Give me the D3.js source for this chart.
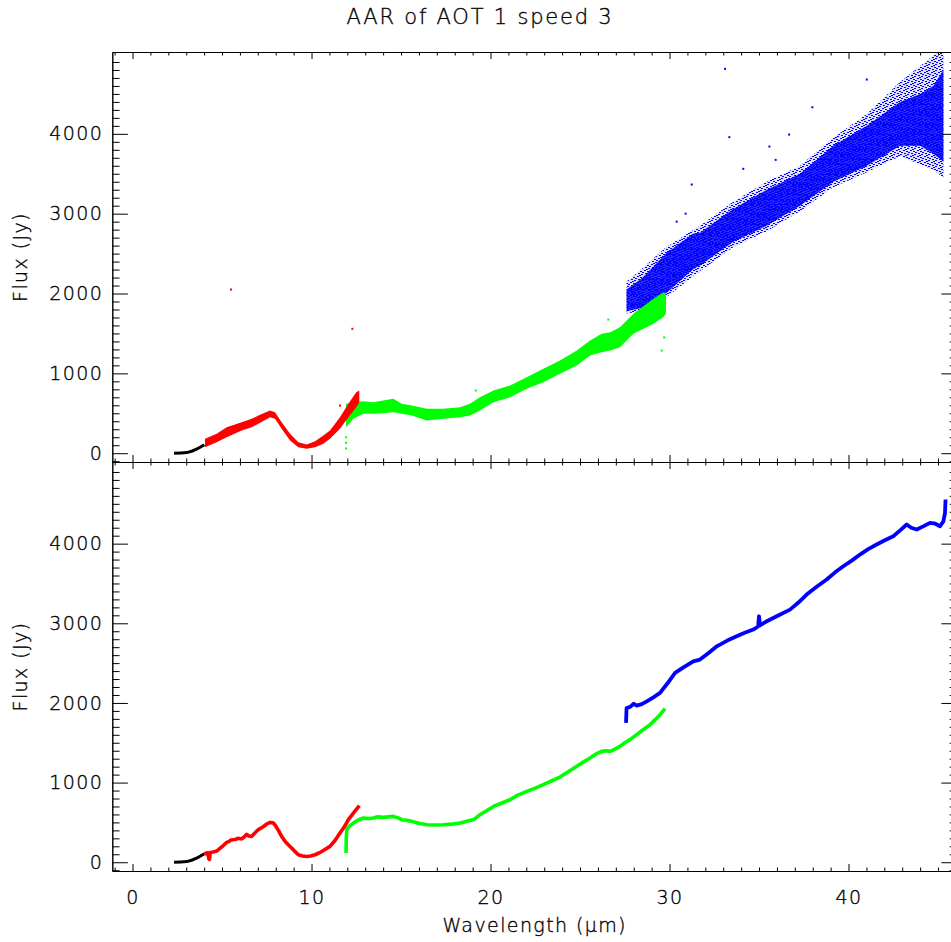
<!DOCTYPE html>
<html>
<head>
<meta charset="utf-8">
<script src="https://cdn.jsdelivr.net/npm/d3@7"></script>
<style>
  html, body { margin: 0; padding: 0; background: #fff; }
  svg text { font-family: "DejaVu Sans", sans-serif; font-weight: 200; fill: #000; stroke: #000; stroke-width: 0.35px; }
</style>
</head>
<body>
<svg id="chart" width="951" height="942"></svg>
<script>
// ---- tick labels ----
const xTickValues = [0, 10, 20, 30, 40];
const yTickValues = [0, 1000, 2000, 3000, 4000];

// ---- lower panel: averaged spectrum per band (wavelength in um, flux in Jy) ----
const blackWl   = [2.32, 2.7, 3.03, 3.3, 3.58, 3.8, 4.01];
const blackFlux = [0, 4, 8, 25, 52, 78, 107];

const redWl   = [4.01, 4.2, 4.27, 4.3, 4.34, 4.5, 4.7, 5.0, 5.26, 5.4, 5.5, 5.73, 5.9, 6.1, 6.25, 6.38, 6.5, 6.66, 6.85, 7.03, 7.3, 7.5, 7.68, 7.85, 7.96, 8.15, 8.33, 8.55, 8.8, 9.05, 9.26, 9.5, 9.73, 9.95, 10.2, 10.45, 10.66, 11.03, 11.3, 11.59, 11.85, 12.06, 12.35, 12.67];
const redFlux = [107, 118, 40, 35, 122, 128, 140, 195, 250, 262, 280, 285, 300, 292, 320, 350, 330, 325, 370, 410, 445, 480, 500, 495, 468, 400, 325, 255, 198, 140, 94, 78, 73, 78, 94, 120, 148, 199, 270, 367, 450, 534, 620, 710];

const greenWl   = [11.93, 11.94, 11.97, 12.1, 12.34, 12.6, 12.89, 13.2, 13.45, 13.7, 14.01, 14.3, 14.57, 14.8, 15.04, 15.3, 15.6, 16.0, 16.44, 16.9, 17.36, 17.8, 18.3, 18.85, 19.1, 19.41, 19.8, 20.16, 20.6, 21.09, 21.5, 22.02, 22.5, 22.95, 23.4, 23.88, 24.3, 24.82, 25.2, 25.56, 25.9, 26.21, 26.45, 26.68, 26.95, 27.23, 27.5, 27.79, 28.17, 28.5, 28.91, 29.2, 29.47, 29.75];
const greenFlux = [115, 300, 408, 450, 492, 530, 555, 548, 555, 570, 563, 570, 576, 560, 534, 528, 513, 490, 471, 468, 471, 478, 492, 525, 540, 597, 650, 701, 740, 785, 840, 890, 930, 974, 1020, 1070, 1130, 1204, 1260, 1309, 1360, 1392, 1400, 1392, 1420, 1455, 1500, 1539, 1602, 1660, 1727, 1790, 1853, 1928];

const blueWl   = [27.57, 27.6, 27.8, 28.0, 28.17, 28.45, 28.73, 29.1, 29.47, 29.9, 30.31, 30.8, 31.33, 31.7, 32.2, 32.64, 33.2, 33.75, 34.2, 34.68, 34.95, 35.0, 35.05, 35.43, 36.1, 36.73, 37.2, 37.66, 38.2, 38.78, 39.25, 39.71, 40.2, 40.64, 41.1, 41.57, 42.0, 42.5, 42.9, 43.25, 43.5, 43.81, 44.2, 44.55, 44.85, 45.11, 45.3, 45.39, 45.42];
const blueFlux = [1749, 1937, 1950, 1990, 1966, 1985, 2020, 2070, 2126, 2250, 2377, 2450, 2523, 2544, 2630, 2711, 2780, 2837, 2880, 2921, 2960, 3088, 2975, 3025, 3100, 3172, 3260, 3361, 3455, 3549, 3640, 3716, 3790, 3863, 3930, 3989, 4040, 4093, 4170, 4240, 4200, 4177, 4220, 4261, 4250, 4219, 4280, 4387, 4554];

// ---- upper panel: scatter envelopes per band ----
const redBandWl = [4.05, 4.7, 5.26, 6.1, 6.66, 7.03, 7.68, 7.96, 8.33, 8.8, 9.26, 9.73, 10.2, 10.66, 11.03, 11.59, 12.06, 12.5, 12.67];
const redBandLo = [75, 138, 200, 284, 326, 368, 451, 431, 305, 159, 75, 55, 75, 118, 180, 305, 451, 576, 639];
const redBandHi = [180, 243, 326, 388, 431, 472, 535, 514, 388, 243, 138, 109, 150, 222, 284, 451, 619, 764, 785];

const greenBandWl = [11.93, 12.34, 12.89, 13.45, 14.0, 14.57, 15.04, 15.6, 16.44, 17.36, 18.3, 18.85, 19.41, 20.16, 21.09, 22.02, 22.95, 23.88, 24.82, 25.56, 26.21, 26.68, 27.23, 27.98, 28.54, 29.1, 29.65, 29.8];
const greenBandLo = [326, 431, 493, 493, 500, 514, 493, 472, 410, 431, 451, 472, 535, 639, 701, 806, 889, 994, 1098, 1223, 1265, 1286, 1327, 1495, 1560, 1620, 1703, 1750];
const greenBandHi = [619, 639, 651, 639, 660, 681, 619, 597, 556, 556, 576, 619, 701, 785, 848, 952, 1057, 1161, 1286, 1411, 1495, 1515, 1578, 1746, 1840, 1934, 2016, 2000];

const blueCoreWl = [27.6, 28.5, 29.8, 31.3, 31.7, 33.56, 35.43, 37.29, 39.15, 41.02, 42.88, 44.0, 44.74, 45.3];
const blueCoreLo = [1780, 1820, 2000, 2300, 2350, 2650, 2850, 3100, 3400, 3600, 3850, 3850, 3750, 3650];
const blueCoreHi = [2050, 2200, 2500, 2750, 2760, 3060, 3300, 3500, 3850, 4100, 4400, 4500, 4600, 4800];

const blueHaloWl = [27.6, 28.5, 29.8, 31.7, 33.56, 35.43, 37.29, 39.15, 41.02, 42.88, 44.74, 45.3];
const blueHaloLo = [1750, 1780, 1950, 2280, 2580, 2780, 3030, 3330, 3520, 3720, 3550, 3450];
const blueHaloHi = [2150, 2320, 2580, 2850, 3150, 3400, 3600, 3950, 4250, 4650, 4980, 5100];

// stray points in the upper panel
const strayWl    = [5.50, 12.28, 11.59, 19.17, 26.58, 29.56, 29.7, 11.93, 11.93, 11.93, 33.1, 37.98, 33.34, 36.68, 35.58, 35.93, 34.12, 31.24, 41.02, 30.4, 30.9];
const strayFlux  = [2050, 1558, 597, 785, 1674, 1286, 1450, 60, 130, 200, 4814, 4333, 3958, 3991, 3841, 3674, 3562, 3365, 4680, 2900, 3000];
const strayColor = ["red", "red", "red", "green", "green", "green", "green", "green", "green", "green", "blue", "blue", "blue", "blue", "blue", "blue", "blue", "blue", "blue", "blue", "blue"];

const palette = { black: "#000000", red: "#ff0000", green: "#00ff00", blue: "#0000ff" };

// ---- layout ----
const svg = d3.select("#chart");
const left = 112.3, right = 957;
const topY0 = 52, midY = 462, botY1 = 871;

const x = d3.scaleLinear().domain([-1.13, 46.06]).range([left, right]);
const yUp = d3.scaleLinear().domain([-110, 5025]).range([midY, topY0]);
const yLo = d3.scaleLinear().domain([-110, 5025]).range([botY1, midY]);

const zip = (a, b) => a.map((v, i) => [v, b[i]]);
const zip3 = (a, b, c) => a.map((v, i) => ({ wl: v, lo: b[i], hi: c[i] }));

const defs = svg.append("defs");
defs.append("clipPath").attr("id", "clipUp").append("rect")
  .attr("x", left).attr("y", topY0).attr("width", right - left).attr("height", midY - topY0);
defs.append("clipPath").attr("id", "clipLo").append("rect")
  .attr("x", left).attr("y", midY).attr("width", right - left).attr("height", botY1 - midY);

// stipple fills so the scatter bands read as clouds of single pixels
function stipple(id, color, dots, size, bgOpacity) {
  const p = defs.append("pattern").attr("id", id).attr("patternUnits", "userSpaceOnUse")
    .attr("width", size[0]).attr("height", size[1]);
  p.append("rect").attr("width", size[0]).attr("height", size[1]).attr("fill", color).attr("fill-opacity", bgOpacity);
  dots.forEach(([dx, dy]) => p.append("rect").attr("x", dx).attr("y", dy).attr("width", 2).attr("height", 1).attr("fill", color));
}
stipple("haloBlue", palette.blue, [[0, 0], [3, 1], [1, 3], [4, 4], [2, 5], [5, 2]], [7, 6], 0.12);
stipple("coreBlue", palette.blue, [[0, 0], [3, 1], [1, 2], [4, 3], [0, 4], [2, 4]], [6, 5], 0.82);

// ---- upper panel ----
const gUp = svg.append("g").attr("clip-path", "url(#clipUp)");
const band = (y) => d3.area().x(d => x(d.wl)).y0(d => y(d.lo)).y1(d => y(d.hi));

gUp.append("path").datum(zip3(blueHaloWl, blueHaloLo, blueHaloHi))
  .attr("d", band(yUp)).attr("fill", "url(#haloBlue)");
gUp.append("path").datum(zip3(blueCoreWl, blueCoreLo, blueCoreHi))
  .attr("d", band(yUp)).attr("fill", "url(#coreBlue)");
gUp.append("path").datum(zip3(greenBandWl, greenBandLo, greenBandHi))
  .attr("d", band(yUp)).attr("fill", palette.green);
gUp.append("path").datum(zip3(redBandWl, redBandLo, redBandHi))
  .attr("d", band(yUp)).attr("fill", palette.red);
gUp.append("path").datum(zip(blackWl, blackFlux))
  .attr("d", d3.line().x(d => x(d[0])).y(d => yUp(d[1])))
  .attr("fill", "none").attr("stroke", palette.black).attr("stroke-width", 3);

gUp.selectAll("rect.stray").data(strayWl.map((w, i) => ({ wl: w, f: strayFlux[i], c: strayColor[i] })))
  .join("rect").attr("class", "stray")
  .attr("x", d => x(d.wl) - 1).attr("y", d => yUp(d.f) - 1)
  .attr("width", 2).attr("height", 2)
  .attr("fill", d => palette[d.c]);

// ---- lower panel ----
const gLo = svg.append("g").attr("clip-path", "url(#clipLo)");
const specLine = d3.line().x(d => x(d[0])).y(d => yLo(d[1]));
[
  [blackWl, blackFlux, "black", 3],
  [redWl, redFlux, "red", 3.6],
  [greenWl, greenFlux, "green", 3.6],
  [blueWl, blueFlux, "blue", 3.8]
].forEach(([w, f, c, sw]) => {
  gLo.append("path").datum(zip(w, f))
    .attr("d", specLine)
    .attr("fill", "none").attr("stroke", palette[c])
    .attr("stroke-width", sw).attr("stroke-linejoin", "round");
});

// ---- axes ----
const fontSize = 19;
const xMinor = d3.range(-1, 47, 1).filter(v => v % 10 !== 0);
const yMinor = d3.range(-100, 5026, 100).filter(v => v % 1000 !== 0);

function styleAxis(g) {
  g.selectAll("path.domain").attr("stroke", "#000").attr("stroke-width", 1);
  g.selectAll(".tick line").attr("stroke", "#000").attr("stroke-width", 1);
  g.selectAll("text").attr("font-size", fontSize).attr("letter-spacing", 1.4)
    .attr("font-family", null);
}

function xAxes(yPos, dir, labels) {
  const maker = dir > 0 ? d3.axisTop : d3.axisBottom;
  const major = maker(x).tickValues(xTickValues).tickSizeInner(-7).tickSizeOuter(0)
    .tickPadding(20).tickFormat(labels ? d3.format("d") : () => "");
  const minor = maker(x).tickValues(xMinor).tickSizeInner(-3.5).tickSizeOuter(0).tickFormat(() => "");
  svg.append("g").attr("transform", `translate(0,${yPos})`).call(major).call(styleAxis);
  svg.append("g").attr("transform", `translate(0,${yPos})`).call(minor).call(styleAxis);
}
xAxes(topY0, 1, false);
xAxes(midY, -1, false);
xAxes(midY, 1, false);
xAxes(botY1, -1, true);

function yAxes(y) {
  const majorL = d3.axisLeft(y).tickValues(yTickValues).tickSizeInner(-15.6).tickSizeOuter(0)
    .tickPadding(9).tickFormat(d3.format("d"));
  const minorL = d3.axisLeft(y).tickValues(yMinor).tickSizeInner(-7.3).tickSizeOuter(0).tickFormat(() => "");
  svg.append("g").attr("transform", `translate(${left},0)`).call(majorL).call(styleAxis);
  svg.append("g").attr("transform", `translate(${left},0)`).call(minorL).call(styleAxis);
  const majorR = d3.axisRight(y).tickValues(yTickValues).tickSizeInner(-15.6).tickSizeOuter(0).tickFormat(() => "");
  const minorR = d3.axisRight(y).tickValues(yMinor).tickSizeInner(-7.3).tickSizeOuter(0).tickFormat(() => "");
  svg.append("g").attr("transform", `translate(${right},0)`).call(majorR).call(styleAxis);
  svg.append("g").attr("transform", `translate(${right},0)`).call(minorR).call(styleAxis);
}
yAxes(yUp);
yAxes(yLo);

// ---- titles ----
svg.append("text").attr("x", 480).attr("y", 24).attr("text-anchor", "middle")
  .attr("font-size", 21).attr("letter-spacing", 1.8).text("AAR of AOT 1 speed 3");

svg.append("text").attr("x", (left + right) / 2).attr("y", 932).attr("text-anchor", "middle")
  .attr("font-size", fontSize).attr("letter-spacing", 1.4).text("Wavelength (\u03bcm)");

[(topY0 + midY) / 2, (midY + botY1) / 2].forEach(cy => {
  svg.append("text").attr("transform", `translate(27,${cy}) rotate(-90)`)
    .attr("text-anchor", "middle").attr("font-size", fontSize).attr("letter-spacing", 1.4)
    .text("Flux (Jy)");
});
</script>
</body>
</html>
